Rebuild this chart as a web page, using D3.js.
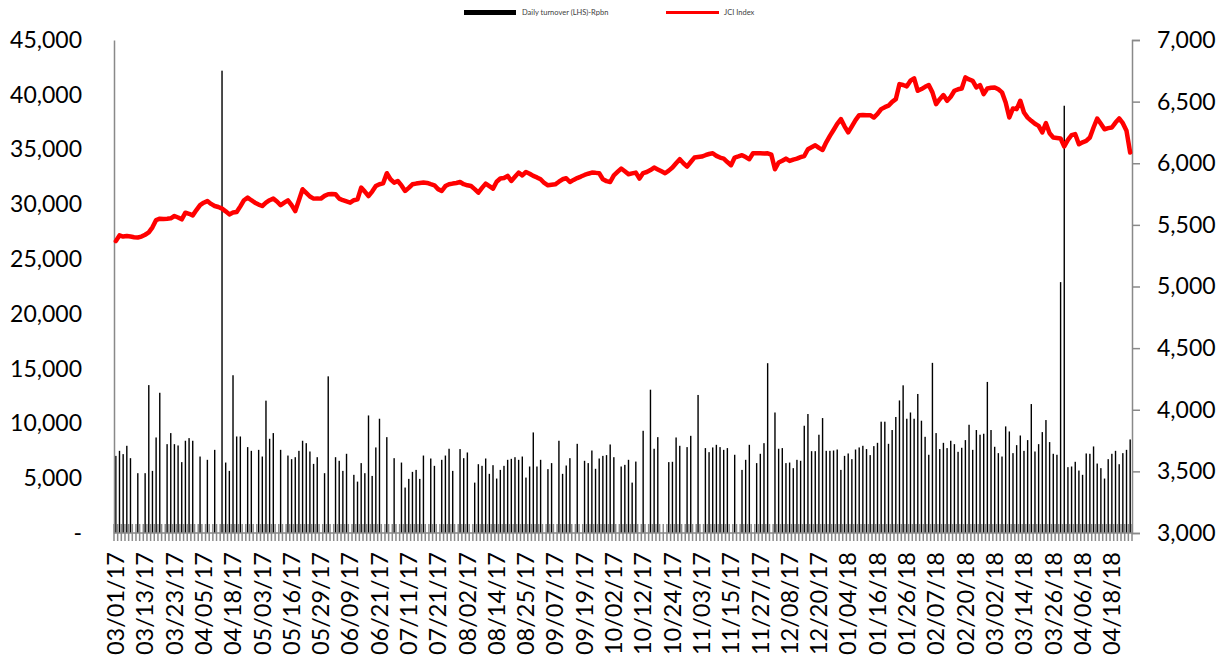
<!DOCTYPE html>
<html>
<head>
<meta charset="utf-8">
<script src="https://cdn.jsdelivr.net/npm/d3@7"></script>
<style>
  body { margin: 0; background: #fff; }
  svg { display: block; font-family: Lato, "Open Sans", sans-serif; }
</style>
</head>
<body>
<svg id="chart" width="1227" height="656"></svg>
<script>
// trading calendar (IDX): weekdays minus exchange holidays
var START_DATE = '2017-03-01';
var END_DATE = '2018-04-25';
var HOLIDAYS = [
  '2017-03-28', '2017-04-14', '2017-04-19', '2017-04-24', '2017-05-01',
  '2017-05-11', '2017-05-25', '2017-06-01', '2017-06-23', '2017-06-26',
  '2017-06-27', '2017-06-28', '2017-06-29', '2017-06-30', '2017-08-17',
  '2017-09-01', '2017-09-21', '2017-12-01', '2017-12-25', '2017-12-26',
  '2018-01-01', '2018-02-16', '2018-03-30'
];

// Daily turnover, Rp bn (null = no bar visible)
var TURNOVER = [
  7040, 7500, 7200, 7960, 6830, null, 5460, null, 5460, 13500,
  5670, 8720, 12800, null, 8110, 9120, 8110, 7990, 6470, 8420,
  8660, 8420, null, 6980, null, 6680, null, 7590, null, 42200,
  6430, 5670, 14400, 8810, 8810, null, 7840, 7500, null, 7590,
  6980, 12080, 8600, 9120, null, 7590, null, 7070, 6740, 6920,
  7500, 8420, 8200, 7440, 6310, 6920, null, 5460, 14300, null,
  6920, 6590, 5670, 7230, null, 5310, 4690, 6380, 5460, 10730,
  5210, 7810, 10430, null, 8750, null, 6830, null, 6430, 4150,
  4940, 5580, 5760, 4940, 7070, null, 6800, 6130, null, 6680,
  7070, 7690, 5670, null, 7660, 6830, 7350, null, 4600, 6280,
  6130, 6800, 5400, 6190, 4970, 5760, 6130, 6680, 6770, 6920,
  6680, 6980, 5060, 6070, 9180, 6070, 6680, null, 5830, 6380,
  null, 8420, 5400, 6160, 6830, null, 8140, null, 6590, 6380,
  7530, 5860, 6800, 7040, 7110, 8080, 6920, null, 6070, 6220,
  6680, 4600, 6520, null, 9330, null, 13080, 7690, 8750, null,
  null, 6470, 6500, 8720, 7960, null, 7840, 8870, null, 12600,
  null, 7750, 7380, 7810, 8050, 7840, 7590, 7750, null, 7140,
  null, 5760, 6680, 8050, null, 6380, 7230, 8200, 15500, null,
  11000, 7690, 7750, 6380, 6430, 5920, 6680, 6590, 9790, 10860,
  7470, 7470, 8970, 10490, 7500, 7500, 7530, 7620, 5760, 7040,
  7260, 6740, 7620, 7810, 7960, 7660, 7110, 7930, 8230, 10160,
  10160, 8140, 9400, 10590, 12100, 13480, 10430, 11000, 10430, 12690,
  10250, 8780, 7140, 15530, 9120, 7660, 8230, 7750, 8420, 8110,
  7410, 7780, 8480, 9880, 7590, 9400, 8970, 9060, 13790, 9400,
  7870, 7290, 6980, 9730, 9270, 7290, 8020, 8900, 7500, 8480,
  11770, 7440, 8110, 9210, 10310, 8300, 7230, 7140, 22900, 39000,
  6010, 6070, 6500, 5700, 5310, 7260, 7230, 7900, 6340, 5920,
  4970, 6740, 7230, 7500, 6280, 7290, 7590, 8540
];

// JCI Index close
var JCI = [
  5368, 5415, 5405, 5409, 5405, 5400, 5398, 5405, 5420, 5439,
  5480, 5539, 5550, 5548, 5550, 5553, 5572, 5560, 5545, 5599,
  5590, 5577, 5620, 5660, 5680, 5693, 5670, 5653, 5645, 5632,
  5610, 5585, 5600, 5604, 5650, 5700, 5721, 5700, 5680, 5665,
  5653, 5680, 5700, 5713, 5690, 5659, 5680, 5699, 5660, 5612,
  5700, 5789, 5760, 5730, 5713, 5715, 5713, 5735, 5748, 5750,
  5748, 5713, 5700, 5690, 5680, 5700, 5707, 5802, 5770, 5734,
  5770, 5815, 5830, 5837, 5919, 5870, 5843, 5856, 5820, 5775,
  5800, 5829, 5835, 5840, 5843, 5840, 5830, 5821, 5790, 5775,
  5815, 5829, 5835, 5840, 5848, 5830, 5821, 5815, 5790, 5762,
  5800, 5835, 5815, 5794, 5850, 5876, 5880, 5897, 5856, 5890,
  5924, 5902, 5929, 5915, 5897, 5885, 5870, 5840, 5821, 5825,
  5829, 5850, 5870, 5878, 5848, 5865, 5880, 5892, 5905, 5915,
  5924, 5922, 5919, 5870, 5855, 5848, 5902, 5930, 5957, 5935,
  5911, 5918, 5924, 5876, 5920, 5929, 5945, 5965, 5950, 5935,
  5919, 5940, 5965, 6000, 6033, 6000, 5973, 6010, 6046, 6050,
  6054, 6065, 6075, 6081, 6060, 6046, 6038, 6010, 5984, 6046,
  6055, 6065, 6050, 6033, 6081, 6081, 6081, 6080, 6081, 6070,
  5951, 6006, 6020, 6038, 6019, 6030, 6038, 6050, 6059, 6114,
  6130, 6146, 6125, 6108, 6170, 6222, 6270, 6320, 6358, 6300,
  6250, 6300, 6350, 6390, 6392, 6390, 6390, 6371, 6400, 6439,
  6455, 6467, 6498, 6520, 6642, 6635, 6624, 6670, 6689, 6588,
  6602, 6620, 6634, 6575, 6480, 6520, 6553, 6507, 6540, 6588,
  6600, 6607, 6697, 6680, 6669, 6615, 6634, 6561, 6607, 6612,
  6615, 6600, 6575, 6493, 6371, 6445, 6439, 6507, 6412, 6370,
  6344, 6320, 6303, 6250, 6325, 6244, 6209, 6205, 6201, 6136,
  6190, 6228, 6236, 6154, 6170, 6181, 6209, 6290, 6363, 6320,
  6276, 6285, 6290, 6330, 6363, 6325, 6263, 6087
];

var LEFT_TICKS = [0, 5000, 10000, 15000, 20000, 25000, 30000, 35000, 40000, 45000];
var RIGHT_TICKS = [3000, 3500, 4000, 4500, 5000, 5500, 6000, 6500, 7000];
var LABEL_EVERY = 8;

var parseDay = d3.timeParse('%Y-%m-%d');
var fmtDay = d3.timeFormat('%Y-%m-%d');
var fmtLabel = d3.timeFormat('%m/%d/%y');

var DATES = d3.timeDay.range(parseDay(START_DATE), d3.timeDay.offset(parseDay(END_DATE), 1))
  .filter(function(d) {
    return d.getDay() % 6 !== 0 && HOLIDAYS.indexOf(fmtDay(d)) < 0;
  });

var plotLeft = 114, plotRight = 1132, plotTop = 40, plotBottom = 533;
var svg = d3.select('#chart');
var axisGrey = '#898989';

var x = d3.scaleBand().domain(d3.range(DATES.length)).range([plotLeft, plotRight]).padding(0);
var bw = x.bandwidth();
var yL = d3.scaleLinear().domain([0, 45000]).range([plotBottom, plotTop]);
var yR = d3.scaleLinear().domain([3000, 7000]).range([plotBottom, plotTop]);

// category tick marks (crossing the axis)
svg.append('g').selectAll('line').data(d3.range(DATES.length + 1))
  .enter().append('line')
  .attr('x1', function(i) { return plotLeft + i * bw; })
  .attr('x2', function(i) { return plotLeft + i * bw; })
  .attr('y1', plotBottom - 9).attr('y2', plotBottom + 8)
  .attr('stroke', '#8a8a8a').attr('stroke-width', 1.5);

// turnover bars
svg.append('g').selectAll('rect')
  .data(TURNOVER.map(function(v, i) { return { i: i, v: v }; }).filter(function(d) { return d.v != null; }))
  .enter().append('rect')
  .attr('x', function(d) { return x(d.i) + bw / 2 - 0.7; })
  .attr('width', 1.4)
  .attr('y', function(d) { return yL(d.v); })
  .attr('height', function(d) { return plotBottom - yL(d.v); })
  .attr('fill', '#000');

// left axis
var gL = svg.append('g').attr('transform', 'translate(' + plotLeft + ',0)')
  .call(d3.axisLeft(yL).tickValues(LEFT_TICKS).tickSize(0).tickPadding(32)
    .tickFormat(function(v) { return v === 0 ? '-' : d3.format(',')(v); }));
gL.select('.domain').attr('stroke', axisGrey).attr('stroke-width', 1.5);
gL.selectAll('text').attr('font-size', 23).attr('fill', '#000').attr('font-family', 'Lato');

// right axis
var gR = svg.append('g').attr('transform', 'translate(' + plotRight + ',0)')
  .call(d3.axisRight(yR).tickValues(RIGHT_TICKS).tickSizeOuter(0).tickSize(8).tickPadding(17)
    .tickFormat(d3.format(',')));
gR.select('.domain').attr('stroke', axisGrey).attr('stroke-width', 1.5);
gR.selectAll('line').attr('stroke', axisGrey).attr('stroke-width', 1.5);
gR.selectAll('text').attr('font-size', 23).attr('fill', '#000').attr('font-family', 'Lato');

// bottom axis line
svg.append('line')
  .attr('x1', plotLeft).attr('x2', plotRight)
  .attr('y1', plotBottom).attr('y2', plotBottom)
  .attr('stroke', axisGrey).attr('stroke-width', 1.5);

// date labels
svg.append('g').selectAll('text')
  .data(d3.range(0, DATES.length, LABEL_EVERY))
  .enter().append('text')
  .attr('transform', function(i) {
    return 'translate(' + (x(i) + bw / 2) + ',' + (plotBottom + 19) + ') rotate(-90)';
  })
  .attr('text-anchor', 'end')
  .attr('dy', '0.35em')
  .attr('font-size', 23.5)
  .attr('fill', '#000')
  .text(function(i) { return fmtLabel(DATES[i]); });

// JCI line
var line = d3.line()
  .x(function(d, i) { return x(i) + bw / 2; })
  .y(function(d) { return yR(d); });
svg.append('path').datum(JCI)
  .attr('d', line)
  .attr('fill', 'none')
  .attr('stroke', '#ff0000')
  .attr('stroke-width', 4.5)
  .attr('stroke-linejoin', 'round')
  .attr('stroke-linecap', 'round');

// legend
var lg = svg.append('g').attr('font-size', 7.5).attr('fill', '#404040');
lg.append('rect').attr('x', 464).attr('y', 10).attr('width', 52).attr('height', 5).attr('fill', '#000');
lg.append('text').attr('x', 522).attr('y', 15).text('Daily turnover (LHS)-Rpbn');
lg.append('line').attr('x1', 666).attr('x2', 719).attr('y1', 12.5).attr('y2', 12.5)
  .attr('stroke', '#ff0000').attr('stroke-width', 3);
lg.append('text').attr('x', 724).attr('y', 15).text('JCI Index');
</script>
</body>
</html>
